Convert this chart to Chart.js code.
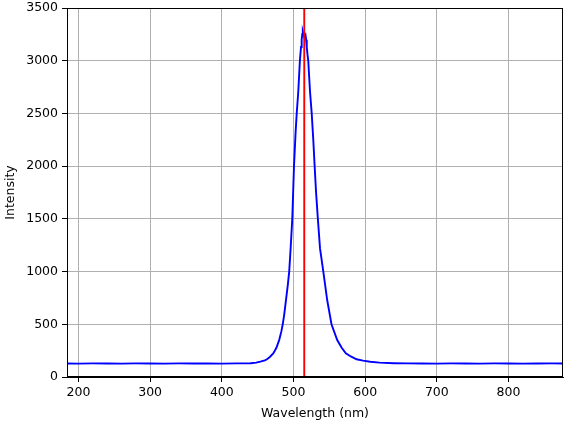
<!DOCTYPE html>
<html lang="en">
<head>
    <meta charset="UTF-8">
    <title>Spectrum</title>
    <script src="https://cdn.jsdelivr.net/npm/chart.js"></script>
    <style>
        body { margin: 0; background: #fff; }
        #wrap { width: 571px; height: 421px; }
    </style>
</head>
<body>
    <div id="wrap"><canvas id="spectrumChart"></canvas></div>

    <script>
        // spectrum (nm, counts)
        const wavelengths = [184, 200, 220, 240, 260, 280, 300, 320, 340, 360, 380, 400, 420, 440, 448, 455, 460, 463, 467, 472, 476, 480, 483, 485, 487, 489.5, 492, 494, 496, 498.3, 500.7, 503, 504.5, 506.7, 509, 510.5, 511.4, 512.3, 513, 514, 515, 516.7, 517.6, 518.5, 519.5, 520.6, 523, 525.4, 527.6, 529.5, 531.5, 534, 537, 541.6, 547, 553, 561, 567, 573, 580, 588, 597, 607, 620, 640, 660, 680, 700, 720, 740, 760, 780, 800, 820, 840, 860, 876];
        const intensity = [128, 127, 129, 128, 127, 129, 128, 127, 129, 128, 128, 127, 129, 131, 136, 148, 158, 168, 190, 225, 275, 350, 430, 500, 590, 730, 870, 1000, 1220, 1500, 2000, 2330, 2500, 2710, 3010, 3130, 3200, 3255, 3276, 3250, 3225, 3245, 3200, 3130, 3060, 3000, 2710, 2500, 2250, 2000, 1750, 1500, 1220, 1000, 730, 500, 350, 280, 225, 195, 168, 155, 145, 136, 131, 129, 128, 127, 129, 128, 127, 129, 128, 127, 128, 129, 128];

        const markerWavelength = 515;
        const xTicks = [200, 300, 400, 500, 600, 700, 800];
        const yTicks = [0, 500, 1000, 1500, 2000, 2500, 3000, 3500];
        const xRange = [184, 876];
        const yRange = [0, 3500];

        const spectrum = wavelengths.map((w, i) => ({ x: w, y: intensity[i] }));
        const marker = [{ x: markerWavelength, y: yRange[0] }, { x: markerWavelength, y: yRange[1] }];

        // full black frame like matplotlib
        const frame = {
            id: 'frame',
            afterDraw(chart) {
                const a = chart.chartArea, ctx = chart.ctx;
                ctx.save();
                ctx.strokeStyle = '#000';
                ctx.lineWidth = 1;
                ctx.strokeRect(a.left + 0.5, a.top + 0.5, a.right - a.left - 1, a.bottom - a.top - 1);
                ctx.restore();
            }
        };

        const font = { family: 'DejaVu Sans', size: 12.5 };
        const plain = v => String(v);

        new Chart(document.getElementById('spectrumChart'), {
            type: 'line',
            data: {
                datasets: [{
                    data: marker,
                    borderColor: '#ff0000',
                    borderWidth: 1.9,
                    pointRadius: 0
                }, {
                    data: spectrum,
                    borderColor: '#0000ff',
                    borderWidth: 1.9,
                    pointRadius: 0,
                    tension: 0
                }]
            },
            options: {
                responsive: true,
                maintainAspectRatio: false,
                animation: false,
                layout: { padding: { top: 8, right: 8, left: 3, bottom: 0 } },
                plugins: {
                    legend: { display: false },
                    tooltip: { enabled: false }
                },
                scales: {
                    x: {
                        type: 'linear',
                        min: xRange[0],
                        max: xRange[1],
                        afterBuildTicks: s => { s.ticks = xTicks.map(v => ({ value: v })); },
                        afterFit: s => { s.height = 44; s.paddingLeft = 0; s.paddingRight = 0; },
                        grid: { color: '#b0b0b0', lineWidth: 1, tickColor: '#000', tickLength: 5 },
                        border: { color: '#000', width: 1 },
                        ticks: { color: '#000', font: font, padding: 3, maxRotation: 0, callback: plain },
                        title: { display: true, text: 'Wavelength (nm)', color: '#000', font: font, padding: { top: 0, bottom: 0 } }
                    },
                    y: {
                        min: yRange[0],
                        max: yRange[1],
                        afterBuildTicks: s => { s.ticks = yTicks.map(v => ({ value: v })); },
                        afterFit: s => { s.width = 64; s.paddingTop = 0; s.paddingBottom = 0; },
                        grid: { color: '#b0b0b0', lineWidth: 1, tickColor: '#000', tickLength: 5 },
                        border: { color: '#000', width: 1 },
                        ticks: { color: '#000', font: font, padding: 4, callback: plain },
                        title: { display: true, text: 'Intensity', color: '#000', font: font, padding: { top: 0, bottom: 0 } }
                    }
                }
            },
            plugins: [frame]
        });
    </script>
</body>
</html>
